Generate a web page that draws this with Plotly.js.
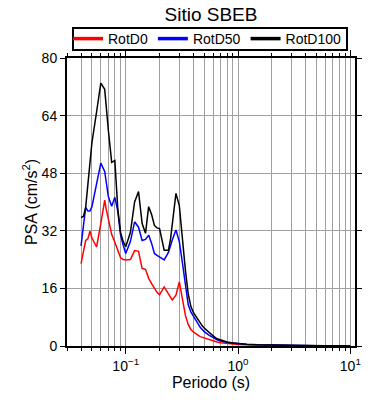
<!DOCTYPE html>
<html>
<head>
<meta charset="utf-8">
<script src="https://cdn.plot.ly/plotly-3.0.1.min.js"></script>
<style>html,body{margin:0;padding:0;background:#fff}#chart{width:390px;height:400px}</style>
</head>
<body>
<div id="chart"></div>
<script>
const periods = [0.04,0.042,0.044,0.046,0.048,0.05,0.055,0.06,0.065,0.067,0.07,0.075,0.08,0.085,0.09,0.095,0.1,0.11,0.12,0.13,0.14,0.15,0.16,0.17,0.18,0.19,0.2,0.22,0.24,0.25,0.26,0.28,0.3,0.32,0.34,0.36,0.38,0.4,0.42,0.44,0.46,0.48,0.5,0.55,0.6,0.65,0.7,0.75,0.8,0.9,1.0,1.2,1.5,2,3,4,5,6,7,8,10];
const rotD0 = [22.9,26.2,29.3,29.8,31.9,30,27.5,34,40.5,38,35,31,28.8,26.8,24.5,24,23.9,24,26.5,26.3,21.5,21.3,18.8,17.3,16,14.9,14.2,16.4,14.5,13.5,12.8,14.1,17.8,13,8.5,6,4.6,3.9,3.3,3.0,2.6,2.4,2.2,1.8,1.4,1.1,0.9,0.8,0.7,0.55,0.45,0.35,0.25,0.17,0.1,0.07,0.05,0.04,0.035,0.03,0.02];
const rotD50 = [27.8,33,38.5,37.5,37.5,38.7,45,50.8,48.5,45,41.5,38.8,41.3,37.5,30.8,28,25.7,29,34.5,33,29.3,29.6,30.8,28.5,25.7,25.2,24.8,23.9,26,28,29.5,32.2,29,23,16.5,11.5,9.5,8.2,7,6.2,5.2,4.6,4.0,3.0,2.3,1.7,1.4,1.15,1.0,0.8,0.65,0.45,0.32,0.22,0.13,0.09,0.07,0.05,0.045,0.035,0.03];
const rotD100 = [35.7,36,38.5,45,51,56.5,65,73,71.3,66,60,51,51.5,38,31.5,29,27.6,31.5,40,42.9,34,31.3,38.7,36.5,33.5,32.8,32.6,26.6,26.6,29.5,34,42.4,39,29.5,21,14.5,11,9.3,8.3,7.3,6.3,5.6,5.0,3.7,2.8,2.0,1.6,1.3,1.1,0.85,0.7,0.5,0.35,0.25,0.15,0.1,0.08,0.06,0.05,0.04,0.03];
const seriesNames = ['RotD0','RotD50','RotD100'];
const seriesColors = ['#ff0000','#0000ff','#000000'];
const yTicks = [0,16,32,48,64,80];
const xTicks = [0.1,1,10];
const xTickText = ['10<sup>−1</sup>','10<sup>0</sup>','10<sup>1</sup>'];

const allSeries = [rotD0, rotD50, rotD100];
const traces = [];
allSeries.forEach((s,i)=>{
  traces.push({x: periods, y: s, type:'scatter', mode:'lines', name: seriesNames[i],
    line:{color: seriesColors[i], width:1.5}, showlegend:false});
});
seriesNames.forEach((n,i)=>{
  traces.push({x:[null], y:[null], type:'scatter', mode:'lines', name:n,
    line:{color: seriesColors[i], width:3.5}, showlegend:true});
});

const font = 'Liberation Sans, Arial, Helvetica, sans-serif';
const W = 390, H = 400, ML = 67, MR = 35, MT = 58, MB = 54;
const PW = W - ML - MR, PH = H - MT - MB;
const px = v => (v - ML) / PW;
const py = v => (H - MB - v) / PH;
const layout = {
  width:W, height:H,
  margin:{l:ML, r:MR, t:MT, b:MB},
  paper_bgcolor:'#fff', plot_bgcolor:'#fff',
  font:{family:font, color:'#000', size:14},
  title:{text:'Sitio SBEB', font:{size:19, family:font, color:'#000'}, x:0.5, xref:'paper', xanchor:'center', y:1-14/400, yref:'container', yanchor:'middle'},
  showlegend:true,
  legend:{orientation:'h', x:px(68), xanchor:'left', y:py(23), yanchor:'top', borderwidth:0, bgcolor:'rgba(0,0,0,0)', font:{size:14, family:font}, itemwidth:30, tracegroupgap:0},
  shapes:[{type:'rect', xref:'paper', yref:'paper', x0:px(73), x1:px(347), y0:py(50), y1:py(28), line:{color:'#000', width:2}, fillcolor:'rgba(0,0,0,0)', layer:'above'}],
  xaxis:{type:'log', range:[Math.log10(0.03), Math.log10(11)], tickmode:'array', tickvals:xTicks, ticktext:xTickText,
    showline:true, linecolor:'#000', linewidth:2, mirror:'allticks', ticks:'outside', ticklen:6, tickwidth:1, tickcolor:'#000',
    showgrid:true, gridcolor:'#a0a0a0', gridwidth:1, zeroline:false,
    minor:{dtick:'D1', ticks:'outside', ticklen:3, tickcolor:'#000', showgrid:true, gridcolor:'#a0a0a0', gridwidth:1},
    tickfont:{size:14, family:font},
    title:{text:'Periodo (s)', font:{size:16, family:font}, standoff:2}},
  yaxis:{range:[0,80], tickmode:'array', tickvals:yTicks, ticktext:yTicks.map(String),
    showline:true, linecolor:'#000', linewidth:2, mirror:'allticks', ticks:'outside', ticklen:5, tickwidth:1, tickcolor:'#000',
    showgrid:true, gridcolor:'#a0a0a0', gridwidth:1, zeroline:false,
    tickfont:{size:14, family:font},
    title:{text:'PSA (cm/s<sup>2</sup>)', font:{size:16, family:font}, standoff:0}}
};
Plotly.newPlot('chart', traces, layout, {displayModeBar:false, staticPlot:true});
</script>
</body>
</html>
